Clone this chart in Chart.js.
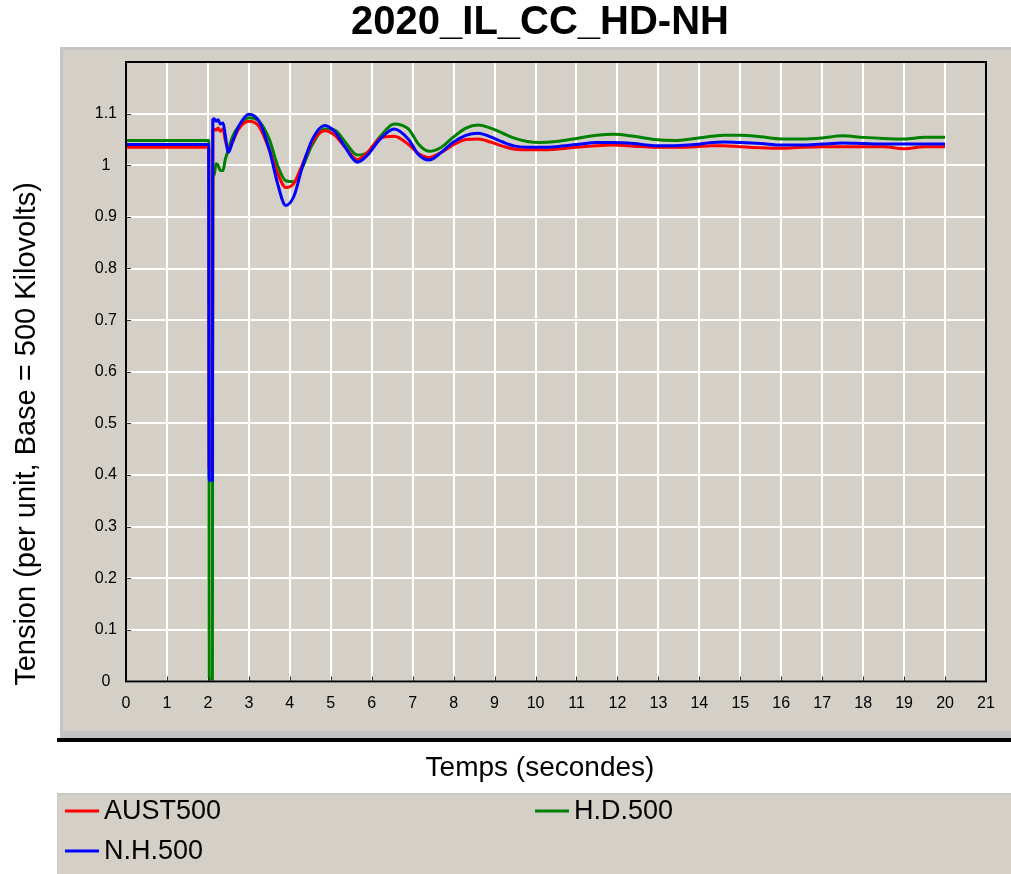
<!DOCTYPE html>
<html>
<head>
<meta charset="utf-8">
<title>2020_IL_CC_HD-NH</title>
<script src="https://cdn.jsdelivr.net/npm/chart.js@4.4.1/dist/chart.umd.min.js"></script>
<style>
  html, body { margin: 0; padding: 0; background: #ffffff; }
  #wrap { width: 1011px; height: 874px; }
</style>
</head>
<body>
<div id="wrap"><canvas id="voltChart" width="1011" height="874"></canvas></div>
<script>
// time (secondes)
const times = [0, 2.02, 2.03, 2.11, 2.12, 2.15, 2.2, 2.25, 2.3, 2.37,
  2.42, 2.5, 2.6, 2.75, 3.0, 3.25, 3.5, 3.7, 3.9, 4.1,
  4.3, 4.55, 4.85, 5.1, 5.35, 5.65, 5.9, 6.2, 6.55, 6.9,
  7.15, 7.4, 7.7, 8.0, 8.3, 8.6, 8.9, 9.2, 9.5, 9.8,
  10.1, 10.5, 11.0, 11.5, 11.9, 12.4, 12.9, 13.4, 13.9, 14.3,
  14.6, 15.0, 15.5, 16.0, 16.5, 17.0, 17.5, 18.0, 18.5, 19.0,
  19.5, 20.0];

// tension per unit
const aust500 = [1.035, 1.035, 0.41, 0.41, 1.068, 1.07, 1.068, 1.072, 1.066, 1.07,
  1.05, 1.03, 1.045, 1.07, 1.085, 1.075, 1.03, 0.985, 0.957, 0.965,
  1.0, 1.045, 1.067, 1.058, 1.035, 1.011, 1.025, 1.052, 1.056, 1.04,
  1.022, 1.015, 1.025, 1.04, 1.05, 1.051, 1.045, 1.037, 1.031, 1.03,
  1.03, 1.031, 1.035, 1.038, 1.039, 1.037, 1.035, 1.035, 1.036, 1.038,
  1.038, 1.036, 1.034, 1.033, 1.035, 1.036, 1.036, 1.036, 1.036, 1.032,
  1.036, 1.036];

const hd500 = [1.048, 1.048, 0.005, 0.005, 0.977, 0.98, 1.003, 1.0, 0.99, 0.99,
  1.01, 1.03, 1.055, 1.075, 1.092, 1.085, 1.05, 1.0, 0.97, 0.968,
  0.995, 1.04, 1.07, 1.068, 1.045, 1.02, 1.025, 1.055, 1.08, 1.07,
  1.04, 1.027, 1.035, 1.055, 1.072, 1.078, 1.072, 1.062, 1.052, 1.046,
  1.044, 1.046, 1.052, 1.058, 1.06, 1.056, 1.05, 1.048, 1.052, 1.056,
  1.058, 1.058, 1.055, 1.051, 1.051, 1.053, 1.057, 1.054, 1.052, 1.051,
  1.054, 1.054];

const nh500 = [1.04, 1.04, 0.39, 0.39, 1.088, 1.09, 1.085, 1.088, 1.08, 1.082,
  1.06, 1.025, 1.045, 1.075, 1.099, 1.085, 1.03, 0.965, 0.922, 0.94,
  0.995, 1.05, 1.077, 1.065, 1.035, 1.006, 1.02, 1.05, 1.07, 1.05,
  1.02, 1.01, 1.025, 1.045, 1.058, 1.062, 1.055, 1.045, 1.037, 1.035,
  1.035, 1.036, 1.04, 1.044, 1.044, 1.042, 1.038, 1.038, 1.04, 1.044,
  1.045, 1.044, 1.042, 1.039, 1.039, 1.041, 1.043, 1.042, 1.041, 1.041,
  1.041, 1.041];

const seriesNames = ["AUST500", "H.D.500", "N.H.500"];
const seriesColors = ["#ff0000", "#008000", "#0000ff"];
const yTickLabels = ["0", "0.1", "0.2", "0.3", "0.4", "0.5", "0.6", "0.7", "0.8", "0.9", "1", "1.1"];

const FONT = '"Liberation Sans", Arial, sans-serif';
Chart.defaults.font.family = FONT;
Chart.defaults.color = "#000000";

function pts(values) {
    return times.map(function (t, i) { return { x: t, y: values[i] }; });
}

// gray panels, titles and legend drawn around the plot
const frame = {
    id: "frame",
    beforeDraw: function (chart) {
        const ctx = chart.ctx;
        ctx.save();
        ctx.fillStyle = "#ffffff";
        ctx.fillRect(0, 0, chart.width, chart.height);

        // plot panel
        ctx.fillStyle = "#c4c4c4";
        ctx.fillRect(60, 47, 951, 691);
        ctx.fillStyle = "#d4d0c8";
        ctx.fillRect(63, 50, 948, 681);
        ctx.fillStyle = "#000000";
        ctx.fillRect(57, 738, 954, 4);

        // legend panel
        ctx.fillStyle = "#c8c8c8";
        ctx.fillRect(57, 793, 954, 81);
        ctx.fillStyle = "#d4d0c8";
        ctx.fillRect(58, 795, 953, 79);

        ctx.fillStyle = "#000000";
        ctx.textAlign = "center";
        ctx.textBaseline = "middle";
        ctx.font = "bold 40px " + FONT;
        ctx.fillText("2020_IL_CC_HD-NH", 540, 23);

        ctx.font = "28px " + FONT;
        ctx.fillText("Temps (secondes)", 540, 768);

        ctx.save();
        ctx.translate(27, 434);
        ctx.rotate(-Math.PI / 2);
        ctx.font = "29px " + FONT;
        ctx.fillText("Tension (per unit, Base = 500 Kilovolts)", 0, 0);
        ctx.restore();

        // legend entries
        const spots = [[65, 811], [535, 811], [65, 851]];
        ctx.textAlign = "left";
        ctx.font = "27px " + FONT;
        chart.data.datasets.forEach(function (ds, i) {
            const p = spots[i];
            ctx.strokeStyle = ds.borderColor;
            ctx.lineWidth = 3;
            ctx.beginPath();
            ctx.moveTo(p[0], p[1]);
            ctx.lineTo(p[0] + 34, p[1]);
            ctx.stroke();
            ctx.fillStyle = "#000000";
            ctx.fillText(ds.label, p[0] + 39, p[1] + 1);
        });
        ctx.restore();
    },
    afterDraw: function (chart) {
        const ctx = chart.ctx;
        const a = chart.chartArea;
        const xs = chart.scales.x;
        const ys = chart.scales.y;
        ctx.save();
        ctx.strokeStyle = "#303030";
        ctx.lineWidth = 1;
        ctx.beginPath();
        for (let v = 1; v < 21; v++) {
            const px = Math.round(xs.getPixelForValue(v)) + 0.5;
            ctx.moveTo(px, a.bottom);
            ctx.lineTo(px, a.bottom - 5);
        }
        for (let i = 1; i < yTickLabels.length; i++) {
            const py = Math.round(ys.getPixelForValue(i / 10)) + 0.5;
            ctx.moveTo(a.left, py);
            ctx.lineTo(a.left + 5, py);
        }
        ctx.stroke();
        ctx.strokeStyle = "#000000";
        ctx.lineWidth = 2;
        ctx.strokeRect(a.left, a.top, a.right - a.left, a.bottom - a.top);
        ctx.restore();
    }
};

new Chart(document.getElementById("voltChart"), {
    type: "line",
    data: {
        datasets: [
            { label: seriesNames[0], data: pts(aust500), borderColor: seriesColors[0], order: 1 },
            { label: seriesNames[1], data: pts(hd500), borderColor: seriesColors[1], order: 2 },
            { label: seriesNames[2], data: pts(nh500), borderColor: seriesColors[2], order: 0 }
        ]
    },
    options: {
        responsive: false,
        animation: false,
        parsing: false,
        layout: { padding: { left: 86, right: 25, top: 62, bottom: 152.5 } },
        elements: {
            point: { radius: 0 },
            line: { borderWidth: 3, cubicInterpolationMode: "monotone", fill: false }
        },
        plugins: {
            legend: { display: false },
            title: { display: false },
            tooltip: { enabled: false }
        },
        scales: {
            x: {
                type: "linear",
                min: 0,
                max: 21,
                afterFit: function (s) { s.height = 40; },
                grid: { color: "#ffffff", lineWidth: 2, drawTicks: false },
                border: { display: false },
                ticks: { stepSize: 1, padding: 12, font: { size: 16 }, maxRotation: 0, autoSkip: false }
            },
            y: {
                min: 0,
                max: 1.2,
                afterFit: function (s) { s.width = 40; },
                grid: { color: "#ffffff", lineWidth: 2, drawTicks: false },
                border: { display: false },
                ticks: {
                    stepSize: 0.1,
                    padding: 9,
                    crossAlign: "center",
                    font: { size: 16 },
                    callback: function (value, index) { return yTickLabels[index] || ""; }
                }
            }
        }
    },
    plugins: [frame]
});
</script>
</body>
</html>
